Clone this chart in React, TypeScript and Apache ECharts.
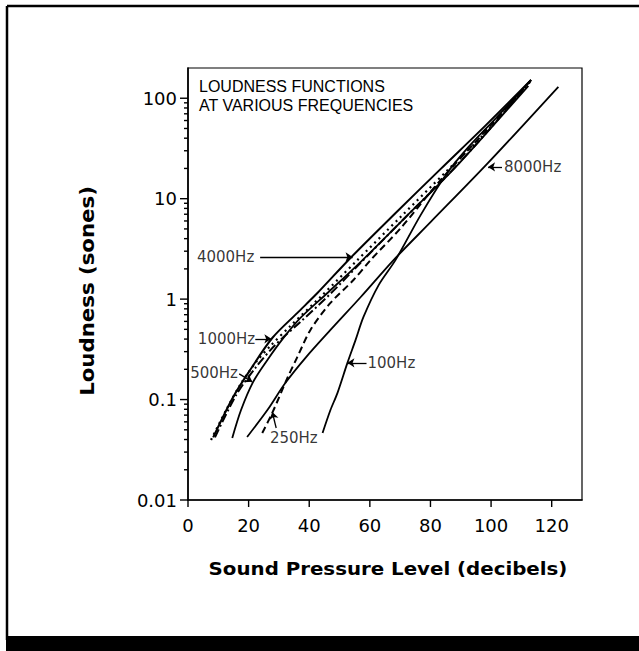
import React, { useEffect, useRef } from 'react';
import * as echarts from 'echarts';

// ---- data (dB SPL, loudness in sones) ----
const curve1000Hz: [number, number][] = [
  [8.3, 0.042], [14.9, 0.106], [20.5, 0.197], [27.8, 0.41], [36.1, 0.73], [42.7, 1.15],
  [53.6, 2.57], [68.5, 7.2], [83.4, 19.8], [98.3, 54], [113.2, 152],
];
const curve4000Hz: [number, number][] = [
  [8.9, 0.042], [15.9, 0.111], [22.2, 0.206], [28.8, 0.35], [37.1, 0.593], [47.0, 1.13],
  [56.3, 2.19], [70.2, 5.87], [85.1, 16.5], [99.3, 48.4], [112.6, 146],
];
const curveDotted: [number, number][] = [
  [7.6, 0.0396], [12.6, 0.0787], [17.2, 0.14], [22.5, 0.237], [27.2, 0.342], [33.8, 0.541],
  [43.7, 1.05], [55.3, 2.35], [70.2, 6.6], [85.1, 18.5], [100, 51.9], [112.9, 146],
];
const curve500Hz: [number, number][] = [
  [14.6, 0.0415], [17.5, 0.0787], [21.5, 0.15], [26.2, 0.248], [31.5, 0.411], [37.1, 0.65],
  [46.0, 1.15], [57.0, 2.35], [71.9, 6.6], [86.8, 18.5], [100, 50.7], [112.3, 133],
];
const curve250Hz: [number, number][] = [
  [24.5, 0.0465], [27.8, 0.0736], [32.8, 0.164], [36.1, 0.266], [40.4, 0.493], [47.0, 0.916],
  [54.6, 1.55], [60.3, 2.46], [70.2, 5.1], [83.4, 15.4], [100, 54], [113.2, 152],
];
const curve100Hz: [number, number][] = [
  [44.4, 0.0465], [47.0, 0.0787], [49.3, 0.116], [52.6, 0.232], [55.3, 0.393], [57.9, 0.665],
  [62.9, 1.38], [68.5, 2.46], [76.8, 6.9], [85.1, 17.3], [91.7, 30.6], [101.7, 63.8], [113.2, 152],
];
const curve8000Hz: [number, number][] = [
  [19.5, 0.0424], [26.2, 0.0787], [32.1, 0.146], [38.7, 0.259], [47.0, 0.493], [57.0, 1.05],
  [67.9, 2.46], [80.1, 5.87], [99.0, 22.7], [122.2, 130],
];

// ---- annotation labels (centre in data space) and arrows ----
const labelNames = ['4000Hz', '1000Hz', '500Hz', '100Hz', '250Hz', '8000Hz'];
const labelAnchors: [number, number][] = [
  [12.4, 2.63], [12.7, 0.402], [8.6, 0.184], [67.1, 0.232], [34.9, 0.0415], [113.7, 20.7],
];
const arrowFrom: [number, number][] = [
  [23.8, 2.63], [22.2, 0.402], [16.9, 0.18], [58.9, 0.232], [29.1, 0.0521], [103.6, 20.7],
];
const arrowTo: [number, number][] = [
  [54.3, 2.63], [27.5, 0.402], [21.2, 0.15], [52.6, 0.232], [27.8, 0.0752], [99.0, 20.7],
];

// ---- axes ----
const xTicks = [0, 20, 40, 60, 80, 100, 120];
const yMajorTicks = [0.01, 0.1, 1, 10, 100];
const yMinorTicks: number[] = [0.01, 0.1, 1, 10].flatMap((d) =>
  [2, 3, 4, 5, 6, 7, 8, 9].map((k) => Number((k * d).toPrecision(3)))
);

const FONT = "'DejaVu Sans', 'Liberation Sans', sans-serif";

function tickSeries(values: number[], axis: 'x' | 'y', len: number) {
  return {
    type: 'custom',
    coordinateSystem: 'cartesian2d',
    clip: false,
    silent: true,
    z: 5,
    data: values.map((v) => (axis === 'y' ? [0, v] : [v, 0.01])),
    encode: { x: 0, y: 1 },
    renderItem: (_params: any, api: any) => {
      const p = api.coord([api.value(0), api.value(1)]);
      const shape =
        axis === 'y'
          ? { x1: p[0] - len, y1: p[1], x2: p[0], y2: p[1] }
          : { x1: p[0], y1: p[1], x2: p[0], y2: p[1] + len };
      return { type: 'line', shape, style: { stroke: '#000', lineWidth: 1.4 } };
    },
  };
}

function lineSeries(name: string, data: [number, number][], type: any, width: number) {
  return {
    name,
    type: 'line',
    data,
    showSymbol: false,
    smooth: 0.3,
    silent: true,
    lineStyle: { color: '#000', width, type },
  };
}

export default function App() {
  const ref = useRef<HTMLDivElement>(null);

  useEffect(() => {
    if (!ref.current) return;
    const chart = echarts.init(ref.current, undefined, { renderer: 'svg' });
    const option: any = {
      animation: false,
      backgroundColor: '#fff',
      grid: {
        left: 188,
        top: 68,
        right: 57,
        bottom: 151,
        show: true,
        borderColor: '#000',
        borderWidth: 1.2,
        backgroundColor: 'transparent',
      },
      xAxis: {
        type: 'value',
        min: 0,
        max: 130,
        interval: 20,
        axisLine: { lineStyle: { color: '#000', width: 1.6 } },
        axisTick: { show: false },
        splitLine: { show: false },
        axisLabel: {
          showMaxLabel: false,
          margin: 16,
          fontFamily: FONT,
          fontSize: 18,
          color: '#000',
        },
      },
      yAxis: {
        type: 'log',
        logBase: 10,
        min: 0.01,
        max: 200,
        axisLine: { lineStyle: { color: '#000', width: 1.6 } },
        axisTick: { show: false },
        minorTick: { show: false },
        splitLine: { show: false },
        axisLabel: {
          showMaxLabel: false,
          margin: 11,
          fontFamily: FONT,
          fontSize: 18,
          color: '#000',
          formatter: (v: number) => String(Number(v.toPrecision(3))),
        },
      },
      series: [
        lineSeries('1000Hz', curve1000Hz, 'solid', 2),
        lineSeries('4000Hz', curve4000Hz, [9, 3, 2, 3], 2),
        lineSeries('dotted', curveDotted, [2, 4], 2.2),
        lineSeries('500Hz', curve500Hz, 'solid', 1.8),
        lineSeries('250Hz', curve250Hz, [7, 4], 2),
        lineSeries('100Hz', curve100Hz, 'solid', 1.8),
        lineSeries('8000Hz', curve8000Hz, 'solid', 1.8),
        tickSeries(yMajorTicks, 'y', 8),
        tickSeries(yMinorTicks, 'y', 4),
        tickSeries(xTicks, 'x', 7),
        {
          type: 'scatter',
          silent: true,
          symbolSize: 1,
          itemStyle: { color: 'rgba(0,0,0,0)' },
          data: labelNames.map((n, i) => ({ name: n, value: labelAnchors[i] })),
          label: {
            show: true,
            position: 'inside',
            formatter: '{b}',
            fontFamily: FONT,
            fontSize: 15,
            color: '#000',
            textBorderWidth: 0,
          },
          markLine: {
            silent: true,
            symbol: ['none', 'arrow'],
            symbolSize: 7,
            label: { show: false },
            lineStyle: { color: '#000', width: 1.3, type: 'solid' },
            data: arrowFrom.map((f, i) => [{ coord: f }, { coord: arrowTo[i] }]),
          },
        },
      ],
      graphic: [
        // outer frame
        { type: 'line', shape: { x1: 7, y1: 6, x2: 639, y2: 6 }, style: { stroke: '#000', lineWidth: 2.5 } },
        { type: 'line', shape: { x1: 7, y1: 6, x2: 7, y2: 640 }, style: { stroke: '#000', lineWidth: 2.5 } },
        { type: 'rect', shape: { x: 6, y: 636, width: 633, height: 15 }, style: { fill: '#000' } },
        // inner caption
        {
          type: 'text',
          x: 199,
          y: 86,
          style: {
            text: 'LOUDNESS FUNCTIONS',
            fontFamily: "'Liberation Sans', sans-serif",
            fontSize: 16,
            fill: '#000',
            textVerticalAlign: 'middle',
          },
        },
        {
          type: 'text',
          x: 199,
          y: 105,
          style: {
            text: 'AT VARIOUS FREQUENCIES',
            fontFamily: "'Liberation Sans', sans-serif",
            fontSize: 16,
            fill: '#000',
            textVerticalAlign: 'middle',
          },
        },
        // axis titles
        {
          type: 'text',
          x: 388,
          y: 568,
          scaleX: 1.1,
          style: {
            text: 'Sound Pressure Level (decibels)',
            fontFamily: "'DejaVu Sans', sans-serif",
            fontWeight: 'bold',
            fontSize: 18,
            fill: '#000',
            textAlign: 'center',
            textVerticalAlign: 'middle',
          },
        },
        {
          type: 'text',
          x: 87,
          y: 291,
          rotation: Math.PI / 2,
          scaleX: 1.12,
          style: {
            text: 'Loudness (sones)',
            fontFamily: "'DejaVu Sans', sans-serif",
            fontWeight: 'bold',
            fontSize: 19,
            fill: '#000',
            textAlign: 'center',
            textVerticalAlign: 'middle',
          },
        },
      ],
    };
    chart.setOption(option);
    return () => chart.dispose();
  }, []);

  return (
    <div
      ref={ref}
      style={{ position: 'absolute', left: 0, top: 0, width: 639, height: 651, background: '#fff' }}
    />
  );
}
